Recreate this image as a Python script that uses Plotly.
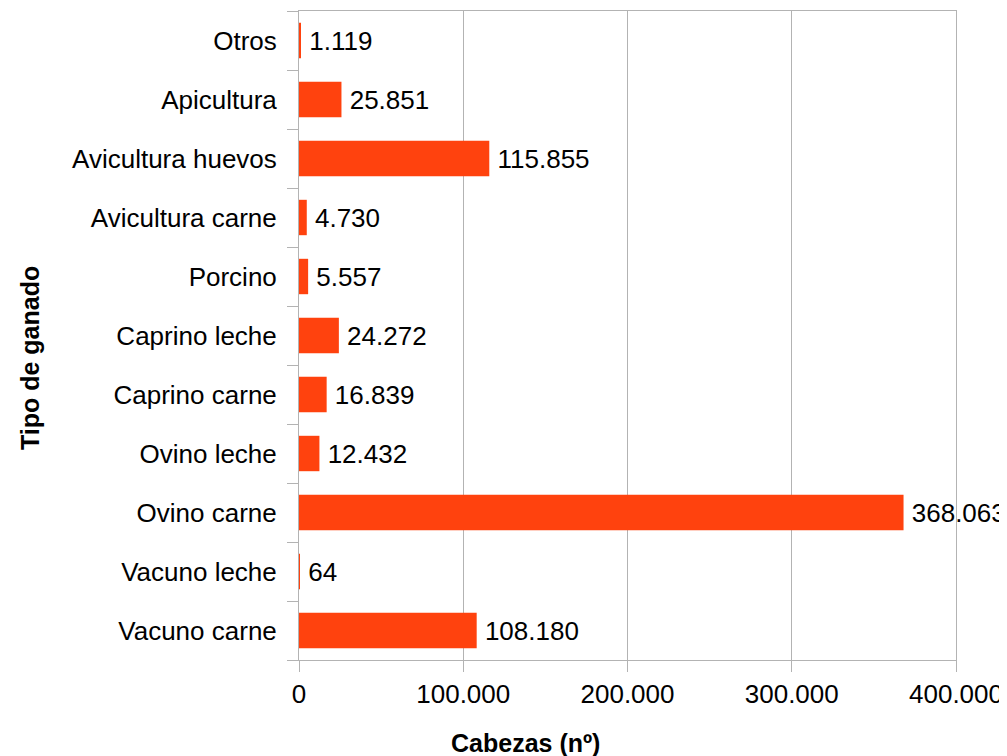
import plotly.graph_objects as go

categories = ["Vacuno carne", "Vacuno leche", "Ovino carne", "Ovino leche", "Caprino carne",
              "Caprino leche", "Porcino", "Avicultura carne", "Avicultura huevos", "Apicultura", "Otros"]
values = [108180, 64, 368063, 12432, 16839, 24272, 5557, 4730, 115855, 25851, 1119]
x_ticks = [0, 100000, 200000, 300000, 400000]

FONT = "Liberation Sans, Arial, sans-serif"
GRID = "#b3b3b3"

fig = go.Figure(go.Bar(
    x=values, y=categories, orientation="h",
    marker=dict(color="#ff420e", line=dict(width=0)),
    texttemplate="\u2009%{x:,}", textposition="outside",
    textfont=dict(family=FONT, size=26, color="#000000"),
    cliponaxis=False, constraintext="none",
))

fig.update_layout(
    width=999, height=748,
    margin=dict(l=291, r=51, t=3, b=96, autoexpand=False),
    paper_bgcolor="white", plot_bgcolor="white",
    separators=",.",
    bargap=0.4,
    showlegend=False,
    font=dict(family=FONT, size=26, color="#000000"),
    annotations=[
        dict(text="<b>Cabezas (nº)</b>", xref="paper", yref="paper", x=0.344, y=-0.128,
             xanchor="center", yanchor="middle", showarrow=False,
             font=dict(family=FONT, size=25, color="#000000")),
        dict(text="<b>Tipo de ganado</b>", xref="paper", yref="paper", x=-0.4094, y=0.4653,
             xanchor="center", yanchor="middle", showarrow=False, textangle=-90,
             font=dict(family=FONT, size=25, color="#000000")),
    ],
)
fig.update_xaxes(
    range=[0, 400000], tickvals=x_ticks, tickformat=",",
    showgrid=True, gridcolor=GRID, gridwidth=1,
    showline=True, linecolor=GRID, linewidth=1, mirror=True,
    ticks="outside", ticklen=11, tickcolor=GRID,
    zeroline=False, automargin=False,
    tickfont=dict(family=FONT, size=26),
)
fig.update_yaxes(
    type="category", tickson="boundaries",
    showgrid=False, automargin=False,
    showline=True, linecolor=GRID, linewidth=1, mirror=True,
    ticks="outside", ticklen=11, tickcolor=GRID,
    tickfont=dict(family=FONT, size=26),
    ticklabelstandoff=16,
)

fig.write_html("out.html")
